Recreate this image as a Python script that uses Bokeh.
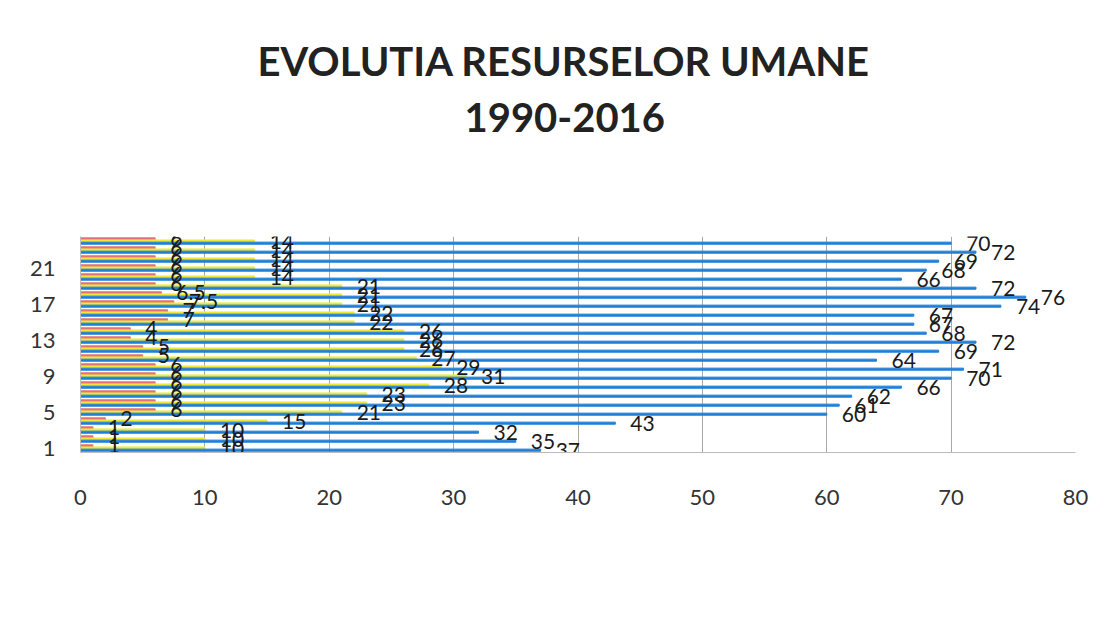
from bokeh.plotting import figure
from bokeh.models import (ColumnDataSource, Title, Legend, LegendItem, FixedTicker,
                          Range1d)
from bokeh.transform import dodge
from bokeh.embed import file_html
from bokeh.resources import INLINE
from bokeh.core.properties import value

categories = list(range(1, 25))
auxiliar = [1, 1, 1, 2, 6, 6, 6, 6, 6, 6, 5, 5, 4, 4, 7, 7, 7.5, 6.5, 6, 6, 6, 6, 6, 6]
nedidactic = [10, 10, 10, 15, 21, 23, 23, 28, 31, 29, 27, 26, 26, 26, 22, 22, 21, 21, 21, 14, 14, 14, 14, 14]
didactic = [37, 35, 32, 43, 60, 61, 62, 66, 70, 71, 64, 69, 72, 68, 67, 67, 74, 76, 72, 66, 68, 69, 72, 70]
series_names = ["PERSONAL DIDACTIC AUX1ILIAR", "PERSONAL NEDIDACTIC", "PERSONAL DIDACTIC"]
title_lines = ["EVOLUTIA RESURSELOR UMANE", "1990-2016"]
x_ticks = [0, 10, 20, 30, 40, 50, 60, 70, 80]
y_ticks = [1, 5, 9, 13, 17, 21]

RED = "#E4737A"
YELLOW = "#EDEA3C"
BLUE = "#1F7FD8"
FONT = "Lato"

def fmt(v):
    return f"{v:g}"

src = ColumnDataSource(dict(
    cat=categories,
    aux=auxiliar, ned=nedidactic, did=didactic,
    aux_l=[fmt(v) for v in auxiliar],
    ned_l=[fmt(v) for v in nedidactic],
    did_l=[fmt(v) for v in didactic],
))

p = figure(frame_width=995, frame_height=216, output_backend="svg", toolbar_location=None,
           x_range=Range1d(0, 80), y_range=Range1d(0.5, 24.5),
           min_border_left=80, min_border_right=25, min_border_bottom=158,
           min_border_top=236, title=None)
p.outline_line_color = None
p.background_fill_color = "white"
p.border_fill_color = "white"

xa = p.xaxis[0]
ya = p.yaxis[0]
xa.ticker = FixedTicker(ticks=x_ticks)
ya.ticker = FixedTicker(ticks=y_ticks)
for ax in (xa, ya):
    ax.major_tick_line_color = None
    ax.minor_tick_line_color = None
    ax.major_tick_out = 0
    ax.major_tick_in = 0
    ax.minor_tick_out = 0
    ax.axis_line_color = "#BDBDBD"
    ax.major_label_text_font = FONT
    ax.major_label_text_font_size = "22px"
    ax.major_label_text_color = "#333333"
xa.major_label_standoff = 37
ya.major_label_standoff = 25

p.xgrid.ticker = FixedTicker(ticks=x_ticks)
p.xgrid.grid_line_color = "#A8A8A8"
p.ygrid.grid_line_color = None

t2 = Title(text=title_lines[1], align="left", text_font_size="40px",
           text_font_style="bold", text_font=FONT, text_color="#222222",
           standoff=0, offset=384,
           padding=dict(top=0, right=0, bottom=105, left=0))
t1 = Title(text=title_lines[0], align="left", text_font_size="40px",
           text_font_style="bold", text_font=FONT, text_color="#222222",
           standoff=0, offset=177,
           padding=dict(top=0, right=0, bottom=16, left=0))
p.add_layout(t2, "above")
p.add_layout(t1, "above")

off = 0.24
bh = 0.23
r_aux = p.hbar(y=dodge("cat", off, range=p.y_range), left=0, right="aux", height=bh,
               color=RED, source=src)
r_ned = p.hbar(y=dodge("cat", 0, range=p.y_range), left=0, right="ned", height=bh,
               color=YELLOW, source=src)
r_did = p.hbar(y=dodge("cat", -off, range=p.y_range), left=0, right="did", height=bh,
               color=BLUE, source=src)

for col, lab, d in [("aux", "aux_l", off), ("ned", "ned_l", 0), ("did", "did_l", -off)]:
    p.text(x=col, y=dodge("cat", d, range=p.y_range), text=lab, source=src,
           x_offset=15, text_baseline="middle", text_align="left",
           text_font=value(FONT), text_font_size="21px", text_color="#1a1a1a")

legend = Legend(items=[LegendItem(label=series_names[0], renderers=[r_aux]),
                       LegendItem(label=series_names[1], renderers=[r_ned]),
                       LegendItem(label=series_names[2], renderers=[r_did])],
                orientation="horizontal", location="center",
                border_line_color=None, background_fill_alpha=0,
                label_text_font=FONT, label_text_font_size="20px",
                label_text_color="#3a3a3a", glyph_width=11, glyph_height=11,
                label_standoff=12, spacing=53, padding=4, margin=0)
p.add_layout(legend, "below")

open("out.html", "w").write(file_html(p, INLINE))
